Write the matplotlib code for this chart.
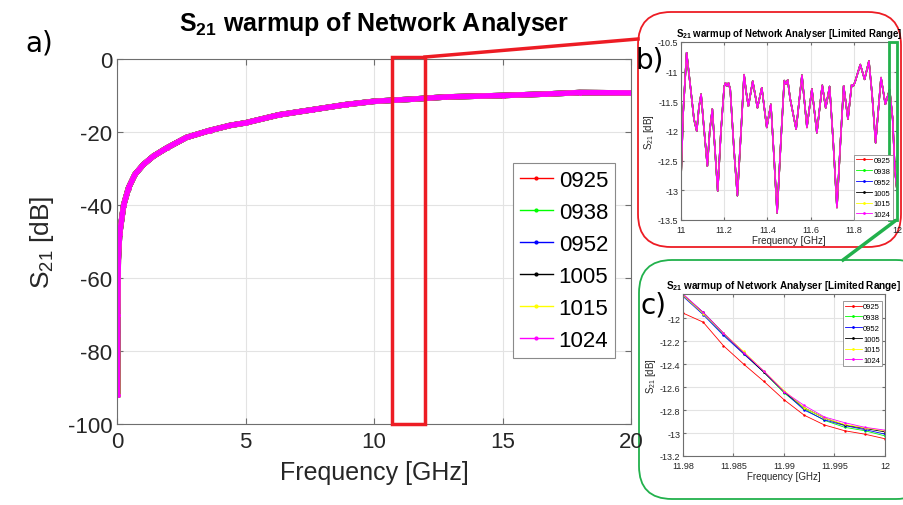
import matplotlib
matplotlib.use("Agg")
import matplotlib.pyplot as plt
from matplotlib.patches import FancyBboxPatch, Rectangle
from matplotlib.lines import Line2D
from matplotlib.ticker import FuncFormatter

plt.rcParams['font.family'] = ['Liberation Sans', 'DejaVu Sans']
plt.rcParams['mathtext.fontset'] = 'custom'
plt.rcParams['mathtext.rm'] = 'Liberation Sans'
plt.rcParams['mathtext.bf'] = 'Liberation Sans:bold'
plt.rcParams['mathtext.default'] = 'regular'
plt.rcParams['axes.unicode_minus'] = False

# series names and colours (same for every panel)
series = ["0925", "0938", "0952", "1005", "1015", "1024"]
colors = ["#ff0000", "#00ff00", "#0000ff", "#000000", "#ffff00", "#ff00ff"]

# a) full sweep, 0-20 GHz (read off the trace)
main_freq = [0.02, 0.03, 0.05, 0.1, 0.26, 0.45, 0.7, 1.03, 1.42, 1.93, 2.7, 3.6,
             4.4, 5.0, 6.3, 7.6, 8.9, 10.0, 11.5, 12.8, 15.0, 16.7, 18.0, 20.0]
main_s21 = [-92, -70, -55, -48, -40, -35.3, -31.6, -28.9, -26.6, -24.4, -21.5, -19.6,
            -18.2, -17.5, -15.3, -13.9, -12.5, -11.6, -11.0, -10.4, -10.0, -9.6, -9.2, -9.3]
# first sample of each trace near 0 GHz differs
main_start = [-65, -58, -72, -62, -76, -92]

# b) 11-12 GHz zoom
b_freq = [11.000, 11.010, 11.026, 11.045, 11.060, 11.073, 11.083, 11.093, 11.105, 11.122,
          11.133, 11.145, 11.157, 11.170, 11.185, 11.200, 11.206, 11.213, 11.220, 11.228,
          11.245, 11.261, 11.278, 11.292, 11.302, 11.312, 11.332, 11.354, 11.374, 11.397,
          11.416, 11.430, 11.445, 11.462, 11.478, 11.486, 11.494, 11.505, 11.533, 11.560,
          11.583, 11.606, 11.629, 11.654, 11.670, 11.688, 11.705, 11.722, 11.738, 11.753,
          11.773, 11.790, 11.798, 11.806, 11.830, 11.850, 11.870, 11.885, 11.901, 11.926,
          11.946, 11.966, 11.980, 11.990, 12.000]
b_s21 = [-12.80, -11.70, -10.68, -11.30, -11.80, -12.00, -11.60, -11.38, -11.90, -12.59,
         -12.00, -11.63, -12.30, -13.01, -12.00, -11.25, -11.19, -11.24, -11.19, -11.30,
         -12.30, -13.09, -12.00, -11.05, -11.35, -11.58, -11.16, -11.61, -11.27, -11.94,
         -11.55, -12.40, -13.38, -12.20, -11.15, -11.21, -11.14, -11.45, -11.97, -11.06,
         -11.94, -11.29, -12.03, -11.23, -11.61, -11.25, -12.20, -13.29, -12.20, -11.24,
         -11.80, -11.22, -11.24, -11.17, -10.88, -11.13, -10.82, -11.40, -12.20, -11.10,
         -11.55, -11.30, -11.80, -12.65, -13.00]

# c) 11.98-12 GHz zoom, one trace per measurement time
c_freq = [11.980, 11.982, 11.984, 11.986, 11.988, 11.990, 11.992, 11.994, 11.996, 11.998, 12.000]
c_0925 = [-11.956, -12.035, -12.24, -12.40, -12.55, -12.71, -12.845, -12.93, -12.98, -13.01, -13.05]
c_0938 = [-11.80, -11.96, -12.14, -12.31, -12.47, -12.65, -12.79, -12.89, -12.95, -12.98, -13.025]
c_0952 = [-11.81, -11.97, -12.15, -12.31, -12.47, -12.64, -12.80, -12.885, -12.935, -12.97, -13.01]
c_1005 = [-11.795, -11.95, -12.13, -12.30, -12.47, -12.64, -12.78, -12.87, -12.93, -12.96, -12.99]
c_1015 = [-11.80, -11.96, -12.13, -12.29, -12.46, -12.63, -12.78, -12.87, -12.925, -12.955, -12.98]
c_1024 = [-11.79, -11.95, -12.13, -12.30, -12.46, -12.64, -12.76, -12.86, -12.91, -12.95, -12.975]
c_all = [c_0925, c_0938, c_0952, c_1005, c_1015, c_1024]

RED = "#ed1c24"
GREEN = "#22b14c"
TXT = "#262626"
SPINE = "#6e6e6e"
GRID = "#e3e3e3"

fig = plt.figure(figsize=(9.04, 5.06), dpi=100)
W, H = 904, 506


def px(x0, y0, x1, y1):
    # pixel box -> figure fractions
    return [x0 / W, 1 - y1 / H, (x1 - x0) / W, (y1 - y0) / H]


def style(ax, fs):
    ax.grid(True, color=GRID, lw=0.8)
    ax.set_axisbelow(True)
    for s in ax.spines.values():
        s.set_color(SPINE)
        s.set_linewidth(0.8)
    ax.tick_params(direction='in', top=True, right=True, colors=SPINE,
                   labelcolor=TXT, labelsize=fs, length=4)


fmt = FuncFormatter(lambda v, p: "%g" % round(v, 4))

# rounded frames behind the insets
fig.add_artist(FancyBboxPatch((6.38, 5.06 - 2.48), 2.63, 2.35,
                              boxstyle="round,pad=0,rounding_size=0.33",
                              transform=fig.dpi_scale_trans, fc='white', ec=RED, lw=1.3, zorder=0))
fig.add_artist(FancyBboxPatch((6.39, 0.06), 2.9, 2.39,
                              boxstyle="round,pad=0,rounding_size=0.33",
                              transform=fig.dpi_scale_trans, fc='white', ec=GREEN, lw=1.3, zorder=0))

# ---- a) main axes
ax = fig.add_axes(px(117, 60, 631, 425))
style(ax, 16)
for name, c, st in zip(series, colors, main_start):
    ax.plot([0.01] + main_freq, [st] + main_s21, '.-', color=c, lw=4, ms=5)
ax.set_xlim(0, 20)
ax.set_ylim(-100, 0)
ax.set_xticks([0, 5, 10, 15, 20])
ax.set_yticks([-100, -80, -60, -40, -20, 0])
ax.tick_params(axis='x', pad=5)
ax.set_xlabel("Frequency [GHz]", fontsize=18, color=TXT, labelpad=6)
ax.set_ylabel("S$_{21}$ [dB]", fontsize=19, color=TXT, labelpad=8)
ax.add_patch(Rectangle((10.7, -100), 1.3, 100.6, fill=False, ec=RED, lw=2.5, clip_on=False, zorder=5))
handles = [Line2D([], [], color=c, lw=1, marker='.', ms=4) for c in colors]
leg = ax.legend(handles, series, loc='upper right', bbox_to_anchor=(0.969, 0.715),
                fontsize=16, fancybox=False, framealpha=1, edgecolor='#8a8a8a',
                handlelength=1.5, handletextpad=0.25, labelspacing=0.5, borderpad=0.3,
                borderaxespad=0)
leg.get_frame().set_linewidth(0.8)

fig.text(374 / W, 1 - 24 / H, r"$\mathbf{S_{21}}$ warmup of Network Analyser",
         fontsize=18, fontweight='bold', ha='center', va='center')

# ---- b) 11-12 GHz
axb = fig.add_axes(px(681, 43, 897, 221))
style(axb, 6.5)
for name, c in zip(series, colors):
    axb.plot(b_freq, b_s21, '-', color=c, lw=1.1)
axb.set_xlim(11, 12)
axb.set_ylim(-13.5, -10.5)
axb.set_xticks([11, 11.2, 11.4, 11.6, 11.8, 12])
axb.set_yticks([-13.5, -13, -12.5, -12, -11.5, -11, -10.5])
axb.xaxis.set_major_formatter(fmt)
axb.yaxis.set_major_formatter(fmt)
axb.tick_params(length=2, pad=2)
axb.tick_params(axis='x', pad=3.5)
axb.set_xlabel("Frequency [GHz]", fontsize=7, color=TXT, labelpad=1)
axb.set_ylabel("S$_{21}$ [dB]", fontsize=7, color=TXT, labelpad=1)
axb.set_title(r"$\mathbf{S_{21}}$ warmup of Network Analyser [Limited Range]",
              fontsize=6.9, fontweight='bold', pad=4)
axb.add_patch(Rectangle((11.963, -13.5), 0.037, 3.0, fill=False, ec=GREEN, lw=2, clip_on=False, zorder=5))
hb = [Line2D([], [], color=c, lw=0.6, marker='.', ms=2) for c in colors]
lb = axb.legend(hb, series, loc='lower right', bbox_to_anchor=(0.98, 0.0), fontsize=5.5,
                fancybox=False, framealpha=1, edgecolor='#8a8a8a', handlelength=2.2,
                handletextpad=0.2, labelspacing=0.45, borderpad=0.25, borderaxespad=0)
lb.get_frame().set_linewidth(0.6)

# ---- c) 11.98-12 GHz
axc = fig.add_axes(px(683, 295, 885, 457))
style(axc, 6.5)
for name, c, vals in zip(series, colors, c_all):
    axc.plot(c_freq, vals, '.-', color=c, lw=0.6, ms=1.5)
axc.set_xlim(11.98, 12)
axc.set_ylim(-13.2, -11.79)
axc.set_xticks([11.98, 11.985, 11.99, 11.995, 12])
axc.set_yticks([-13.2, -13, -12.8, -12.6, -12.4, -12.2, -12])
axc.xaxis.set_major_formatter(fmt)
axc.yaxis.set_major_formatter(fmt)
axc.tick_params(length=2, pad=2)
axc.tick_params(axis='x', pad=3.5)
axc.set_xlabel("Frequency [GHz]", fontsize=7, color=TXT, labelpad=1)
axc.set_ylabel("S$_{21}$ [dB]", fontsize=7, color=TXT, labelpad=1)
axc.set_title(r"$\mathbf{S_{21}}$ warmup of Network Analyser [Limited Range]",
              fontsize=7.2, fontweight='bold', pad=4)
hc = [Line2D([], [], color=c, lw=0.6, marker='.', ms=2) for c in colors]
lc = axc.legend(hc, series, loc='upper right', bbox_to_anchor=(0.985, 0.957), fontsize=5.5,
                fancybox=False, framealpha=1, edgecolor='#8a8a8a', handlelength=2.2,
                handletextpad=0.2, labelspacing=0.45, borderpad=0.25, borderaxespad=0)
lc.get_frame().set_linewidth(0.6)

# connector lines between zoom boxes and insets (pixel positions)
fig.add_artist(Line2D([425 / W, 638 / W], [1 - 58 / H, 1 - 40 / H], color=RED, lw=2.5))
fig.add_artist(Line2D([895 / W, 843 / W], [1 - 222 / H, 1 - 261 / H], color=GREEN, lw=2.5))

# panel labels
fig.text(25 / W, 1 - 44 / H, "a)", fontsize=20, family='DejaVu Sans', va='center', ha='left')
fig.text(636 / W, 1 - 61 / H, "b)", fontsize=20, family='DejaVu Sans', va='center', ha='left')
fig.text(641 / W, 1 - 306 / H, "c)", fontsize=20, family='DejaVu Sans', va='center', ha='left')

fig.savefig("out.png", dpi=100)
